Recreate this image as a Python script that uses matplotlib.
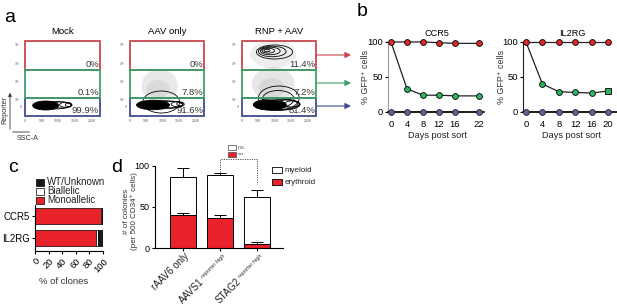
import matplotlib
matplotlib.use("Agg")
import matplotlib.pyplot as plt
from matplotlib.patches import Rectangle, Ellipse, FancyArrowPatch

plt.rcParams["font.family"] = ["Liberation Sans", "DejaVu Sans"]
plt.rcParams["mathtext.fontset"] = "custom"
plt.rcParams["mathtext.rm"] = "Liberation Sans"
plt.rcParams["axes.linewidth"] = 0.8

W, H = 617, 307

# ---- panel a: flow gates ----
flow_titles = ["Mock", "AAV only", "RNP + AAV"]
flow_pcts = [["0%", "0.1%", "99.9%"],
             ["0%", "7.8%", "91.6%"],
             ["11.4%", "7.2%", "81.4%"]]
flow_xticks = [0, 50, 100, 150, 200]
flow_xlabels = ["0", "50K", "100K", "150K", "200K"]
flow_yticks = [9, 17, 35, 53, 72]
flow_ylabels = ["0", "10$^2$", "10$^3$", "10$^4$", "10$^5$"]
gate_bounds = [(46, 75), (18, 46), (0, 18)]  # red, green, blue
# contour levels as ellipses: (cx, cy, width, height, filled)
flow_contours = [
    [(62, 10.5, 78, 9, True), (88, 10.8, 100, 7.5, False), (108, 11, 66, 6, False),
     (122, 11.2, 36, 5, False), (130, 11.2, 18, 3.5, False)],
    [(95, 14, 112, 22, False), (70, 11, 100, 9.5, True), (100, 11.3, 120, 8, False),
     (125, 11.5, 70, 6.5, False), (145, 11.8, 40, 5, False), (152, 12, 20, 3.5, False)],
    [(99, 64, 110, 14, False), (92, 64.5, 84, 10.5, False), (86, 65, 60, 7.5, False),
     (80, 65.3, 38, 4.8, False), (76, 65.5, 18, 2.2, False),
     (112, 18, 124, 24, False), (110, 17, 96, 17, False),
     (85, 11, 100, 10, True), (105, 11.5, 140, 12, False), (122, 11.6, 110, 10, False),
     (138, 12, 72, 8, False), (150, 12, 40, 6, False)],
]
# faint event clouds: (cx, cy, width, height, alpha)
flow_clouds = [
    [],
    [(90, 30, 110, 34, 0.18), (85, 27, 70, 18, 0.15)],
    [(95, 62, 140, 28, 0.15), (95, 32, 130, 34, 0.2), (90, 28, 80, 20, 0.15)],
]
flow_boxes = [(25, 100), (130, 204), (242, 316)]

# ---- panel b: reporter stability ----
ccr5_days = [0, 4, 8, 12, 16, 22]
ccr5_red = [100, 100, 100, 99, 98, 98]
ccr5_green = [100, 33, 24, 24, 23, 23]
ccr5_blue = [0, 0, 0, 0, 0, 0]
il2rg_days = [0, 4, 8, 12, 16, 20]
il2rg_red = [100, 100, 100, 100, 100, 100]
il2rg_green = [100, 40, 29, 28, 27, 30]
il2rg_green_markers = ["o", "o", "o", "o", "o", "s"]
il2rg_blue = [0, 0, 0, 0, 0, 0]

# ---- panel c: clone genotypes ----
c_genes = ["CCR5", "IL2RG"]
c_mono = [97, 90]
c_bi = [1, 2]
c_wt = [2, 8]

# ---- panel d: colonies ----
d_groups = ["rAAV6 only", "AAVS1", "STAG2"]
d_group_notes = ["", "reporter high", "reporter high"]
d_total = [87, 89, 62]
d_total_err = [10, 3, 9]
d_ery = [40, 37, 5]
d_ery_err = [3, 3, 2]

GATE_RED = "#c8474c"
GATE_GREEN = "#3f9f6b"
GATE_BLUE = "#434c8e"
PT_RED = "#e0282c"
PT_GREEN = "#2fb35c"
PT_BLUE = "#5b6595"
BAR_RED = "#e8212b"


def rect(x0, y0, x1, y1):
    return [x0 / W, 1 - y1 / H, (x1 - x0) / W, (y1 - y0) / H]


def fx(x):
    return x / W


def fy(y):
    return 1 - y / H


fig = plt.figure(figsize=(W / 100, H / 100), dpi=100)

# ================= a =================
fig.text(fx(4), fy(17), "a", fontsize=14, va="center", ha="left")
for i, (bx0, bx1) in enumerate(flow_boxes):
    ax = fig.add_axes(rect(bx0, 41, bx1, 116))
    ax.set_xlim(0, 225)
    ax.set_ylim(0, 75)
    for s in ax.spines.values():
        s.set_visible(False)
    ax.set_xticks(flow_xticks)
    ax.set_xticklabels(flow_xlabels, fontsize=2.5, color="#444")
    ax.set_yticks(flow_yticks)
    ax.set_yticklabels(flow_ylabels, fontsize=2.5, color="#444")
    ax.tick_params(length=1, width=0.4, pad=1.5, colors="#666")
    for cx, cy, w, h, a in flow_clouds[i]:
        ax.add_patch(Ellipse((cx, cy), w, h, facecolor="#888", alpha=a, edgecolor="none"))
    for cx, cy, w, h, filled in flow_contours[i]:
        ax.add_patch(Ellipse((cx, cy), w, h, facecolor="black" if filled else "none",
                             edgecolor="black", lw=0.6))
    for (lo, hi), col in zip([gate_bounds[2], gate_bounds[0], gate_bounds[1]],
                             [GATE_BLUE, GATE_RED, GATE_GREEN]):
        ax.add_patch(Rectangle((0.6, lo), 223.8, hi - lo, facecolor="none",
                               edgecolor=col, lw=1.3, clip_on=False))
    for (lo, hi), txt in zip(gate_bounds, flow_pcts[i]):
        ax.text(222, lo + 5.5, txt, fontsize=6.8, ha="right", va="center", color="#333")
    ax.set_title(flow_titles[i], fontsize=6.8, pad=5)

# reporter / SSC-A axis key
fig.add_artist(FancyArrowPatch((fx(10), fy(132)), (fx(10), fy(90)), transform=fig.transFigure,
                               arrowstyle="-|>,head_length=2,head_width=1", lw=0.6, color="#333"))
fig.add_artist(FancyArrowPatch((fx(10), fy(132)), (fx(32), fy(132)), transform=fig.transFigure,
                               arrowstyle="-", lw=0.6, color="#333"))
fig.text(fx(5), fy(110), "Reporter", rotation=90, fontsize=5.2, ha="center", va="center", color="#333")
fig.text(fx(28), fy(138), "SSC-A", fontsize=5.2, ha="center", va="center", color="#333")

for yy, col in zip([55, 83, 106], [GATE_RED, GATE_GREEN, GATE_BLUE]):
    fig.add_artist(FancyArrowPatch((fx(317), fy(yy)), (fx(351), fy(yy)), transform=fig.transFigure,
                                   arrowstyle="-|>,head_length=3.5,head_width=1.8", lw=0.8,
                                   color=col, shrinkA=0, shrinkB=0))

# ================= b =================
fig.text(fx(357), fy(12), "b", fontsize=14, va="center", ha="left")


def stability(axrect, xlim, days, red, green, blue, gmarkers, title, spine_col, xlab_x, ylab_x):
    ax = fig.add_axes(rect(*axrect))
    ax.set_xlim(*xlim)
    ax.set_ylim(-4.3, 105.7)
    ax.spines["top"].set_visible(False)
    ax.spines["right"].set_visible(False)
    ax.spines["left"].set_bounds(0, 100)
    ax.spines["left"].set_color(spine_col)
    ax.spines["bottom"].set_position(("data", 0))
    ax.spines["bottom"].set_linewidth(1.2)
    ax.set_yticks([0, 50, 100])
    ax.set_xticks(days)
    ax.tick_params(axis="y", length=2.5, width=0.8, labelsize=6.8, pad=1)
    ax.tick_params(axis="x", length=0, labelsize=6.8, pad=6)
    ms = 4.2
    ax.plot(days, green, color="#222", lw=0.9, zorder=2)
    for d, v, m in zip(days[1:], green[1:], gmarkers[1:]):
        ax.plot([d], [v], marker=m, ms=ms, mfc=PT_GREEN, mec="black", mew=0.6, zorder=3, clip_on=False)
    ax.plot(days, blue, color="#222", lw=1.2, marker="o", ms=ms, mfc=PT_BLUE, mec="#222",
            mew=0.6, zorder=3, clip_on=False)
    ax.plot(days, red, color="#222", lw=0.9, marker="o", ms=ms, mfc=PT_RED, mec="black",
            mew=0.6, zorder=4, clip_on=False)
    fig.text(fx(xlab_x), fy(33), title, fontsize=6.6, ha="center", va="center")
    fig.text(fx(xlab_x), fy(136), "Days post sort", fontsize=6.6, ha="center", va="center", color="#222")
    fig.text(fx(ylab_x), fy(77), "% GFP\u207a cells", fontsize=6.4, rotation=90,
             ha="center", va="center", color="#333")
    return ax


stability((388, 38, 484, 115), (-0.75, 23.25), ccr5_days, ccr5_red, ccr5_green, ccr5_blue,
          ["o"] * 6, "CCR5", "#999", 437, 366)
stability((523, 38, 617, 115), (-0.73, 22.2), il2rg_days, il2rg_red, il2rg_green, il2rg_blue,
          il2rg_green_markers, "IL2RG", "#222", 572, 501)

# ================= c =================
fig.text(fx(8), fy(168), "c", fontsize=14, va="center", ha="left")
axc = fig.add_axes(rect(35, 205, 103, 251))
ypos = [1, 0]
axc.barh(ypos, c_mono, height=0.77, color=BAR_RED, edgecolor="black", lw=0.5)
axc.barh(ypos, c_bi, left=c_mono, height=0.77, color="white", edgecolor="black", lw=0.5)
axc.barh(ypos, c_wt, left=[m + b for m, b in zip(c_mono, c_bi)], height=0.77,
         color="#1a1a1a", edgecolor="black", lw=0.5)
axc.set_xlim(0, 100)
axc.set_ylim(-0.59, 1.5)
axc.spines["top"].set_visible(False)
axc.spines["right"].set_visible(False)
axc.set_yticks(ypos)
axc.set_yticklabels(c_genes, fontsize=6.9)
axc.set_xticks([0, 20, 40, 60, 80, 100])
axc.set_xticklabels(["0", "20", "40", "60", "80", "100"], fontsize=6.8, rotation=45,
                    ha="right", rotation_mode="anchor")
axc.tick_params(length=2.5, width=0.8, pad=1.5)
fig.text(fx(64), fy(282), "% of clones", fontsize=6.8, ha="center", va="center", color="#333")
for yy, col, lab in zip([182, 191, 200], ["#1a1a1a", "white", BAR_RED],
                        ["WT/Unknown", "Biallelic", "Monoallelic"]):
    fig.add_artist(Rectangle((fx(36), fy(yy + 3.5)), 8 / W, 7 / H, transform=fig.transFigure,
                             facecolor=col, edgecolor="black", lw=0.5))
    fig.text(fx(47), fy(yy), lab, fontsize=7, ha="left", va="center", color="#222")

# ================= d =================
fig.text(fx(111), fy(168), "d", fontsize=14, va="center", ha="left")
axd = fig.add_axes(rect(155, 160, 283, 248))
xs = [0, 1, 2]
mye = [t - e for t, e in zip(d_total, d_ery)]
axd.bar(xs, d_ery, width=0.68, color=BAR_RED, edgecolor="black", lw=0.7, zorder=2)
axd.bar(xs, mye, bottom=d_ery, width=0.68, color="white", edgecolor="black", lw=0.7, zorder=2)
axd.errorbar(xs, d_total, yerr=[[0] * 3, d_total_err], fmt="none", ecolor="black",
             elinewidth=0.7, capsize=4.5, capthick=0.7, zorder=3)
axd.errorbar(xs, d_ery, yerr=[[0] * 3, d_ery_err], fmt="none", ecolor="black",
             elinewidth=0.7, capsize=4.5, capthick=0.7, zorder=3)
axd.set_xlim(-0.757, 2.70)
axd.set_ylim(0, 107.3)
axd.spines["top"].set_visible(False)
axd.spines["right"].set_visible(False)
axd.spines["left"].set_bounds(0, 100)
axd.set_yticks([0, 50, 100])
axd.set_xticks(xs)
axd.set_xticklabels([""] * 3)
axd.tick_params(length=2.5, width=0.8, labelsize=6.5, pad=1.5)
# rotated group labels, with the small "reporter high" note running on along the baseline
note_len = 24.0  # points, length of the small note plus gap
lab_dx, lab_dy = 3.0, -5.0
for x, name, note in zip(xs, d_groups, d_group_notes):
    if note:
        axd.annotate(note, xy=(x, 0), xytext=(lab_dx, lab_dy), textcoords="offset points",
                     fontsize=4.0, rotation=45, ha="right", va="center",
                     rotation_mode="anchor", color="#333", annotation_clip=False)
        off = (lab_dx - note_len * 0.707 + 1.5 * 0.707, lab_dy - note_len * 0.707 - 1.5 * 0.707)
    else:
        off = (lab_dx, lab_dy)
    axd.annotate(name, xy=(x, 0), xytext=off, textcoords="offset points", fontsize=7,
                 rotation=45, ha="right", va="center", rotation_mode="anchor",
                 color="#222", annotation_clip=False)
# significance bracket
axd.plot([1, 1, 2, 2], [93, 108, 108, 78], ls=(0, (1.2, 1.2)), color="#555", lw=0.7, clip_on=False)
fig.add_artist(Rectangle((fx(228), fy(150)), 8 / W, 5 / H, transform=fig.transFigure,
                         facecolor="white", edgecolor="#444", lw=0.5))
fig.text(fx(238), fy(147.5), "n.s.", fontsize=3.5, ha="left", va="center", color="#444")
fig.add_artist(Rectangle((fx(228), fy(157)), 8 / W, 5 / H, transform=fig.transFigure,
                         facecolor=BAR_RED, edgecolor="#444", lw=0.5))
fig.text(fx(238), fy(154.5), "***", fontsize=4, ha="left", va="center", color="#444")
for yy, col, lab in zip([170, 182], ["white", BAR_RED], ["myeloid", "erythroid"]):
    fig.add_artist(Rectangle((fx(272), fy(yy + 3)), 10 / W, 6 / H, transform=fig.transFigure,
                             facecolor=col, edgecolor="black", lw=0.6))
    fig.text(fx(285), fy(yy), lab, fontsize=5.8, ha="left", va="center", color="#222")
fig.text(fx(126), fy(211), "# of colonies", fontsize=5.8, rotation=90, ha="center", va="center", color="#333")
fig.text(fx(134.5), fy(211), "(per 500 CD34\u207a cells)", fontsize=5.8, rotation=90,
         ha="center", va="center", color="#333")

fig.savefig("out.png", dpi=100)
